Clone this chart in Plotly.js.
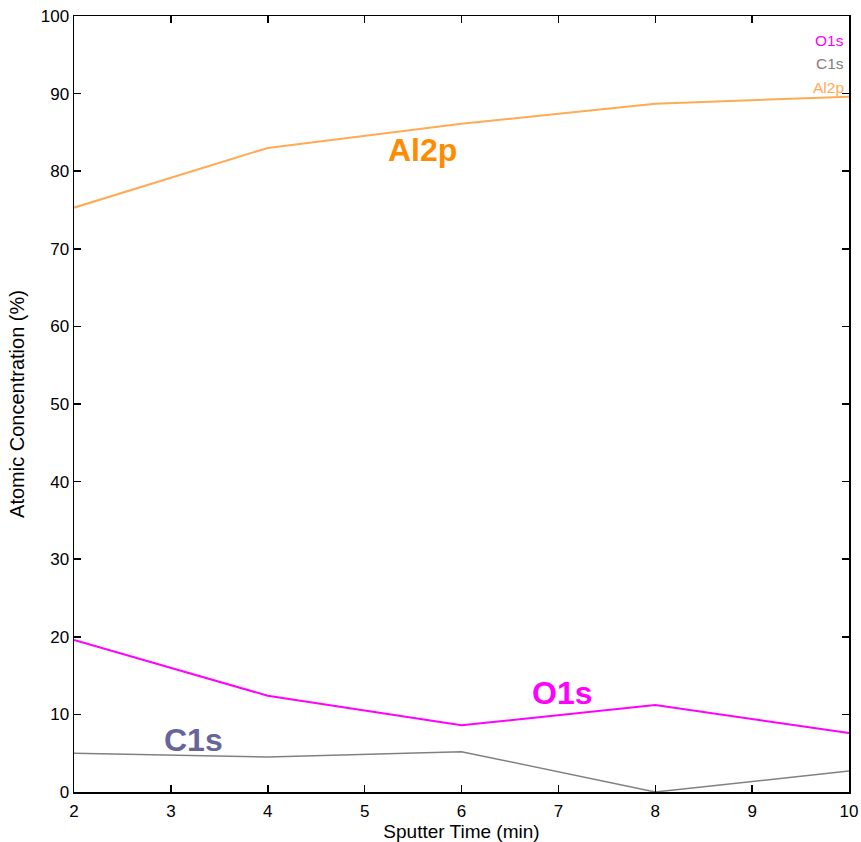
<!DOCTYPE html>
<html>
<head>
<meta charset="utf-8">
<script src="https://cdn.plot.ly/plotly-3.0.1.min.js"></script>
<style>html,body{margin:0;padding:0;background:#fff;}#chart{width:861px;height:842px;}</style>
</head>
<body>
<div id="chart"></div>
<script>
const sputterTime = [2, 4, 6, 8, 10];
const al2p = [75.3, 83.0, 86.1, 88.7, 89.6];
const o1s = [19.6, 12.4, 8.6, 11.2, 7.6];
const c1s = [5.0, 4.5, 5.2, 0.0, 2.7];
const seriesNames = ["O1s", "C1s", "Al2p"];
const seriesColors = ["#ff00ff", "#808080", "#ffaa55"];
const labelColors = ["#ff00ff", "#666699", "#ff8c00"];
const labelPos = [[7.04, 12.8], [3.23, 6.7], [5.6, 82.7]];

const seriesData = [o1s, c1s, al2p];
const traces = seriesData.map((d, i) => ({
  x: sputterTime, y: d, type: 'scatter', mode: 'lines', name: seriesNames[i],
  line: {color: seriesColors[i], width: i === 1 ? 1.5 : 2},
  showlegend: false, cliponaxis: false
}));

const annotations = [];
seriesNames.forEach((n, i) => {
  annotations.push({x: labelPos[i][0], y: labelPos[i][1], xref: 'x', yref: 'y', text: '<b>' + n + '</b>',
    showarrow: false, font: {family: 'Liberation Sans, Arial', size: 32, color: labelColors[i]}});
  annotations.push({x: 0.996, y: 0.968 - i * 0.0298, xref: 'paper', yref: 'paper', xanchor: 'right', yanchor: 'middle',
    text: n, showarrow: false, font: {family: 'Liberation Sans, Arial', size: 15.5, color: seriesColors[i]}});
});

const axisCommon = {
  showline: true, linecolor: '#000', linewidth: 1.5, mirror: 'ticks', ticks: 'inside', ticklen: 7,
  tickcolor: '#000', tickwidth: 1.5, showgrid: false, zeroline: false,
  tickfont: {family: 'Liberation Sans, Arial', size: 17, color: '#000'}
};

const layout = {
  width: 861, height: 842,
  margin: {l: 74, r: 12, t: 16, b: 50},
  paper_bgcolor: '#fff', plot_bgcolor: '#fff',
  xaxis: Object.assign({}, axisCommon, {range: [2, 10], dtick: 1, ticklabelstandoff: 3,
    title: {text: 'Sputter Time (min)', standoff: 2, font: {family: 'Liberation Sans, Arial', size: 19, color: '#000'}}}),
  yaxis: Object.assign({}, axisCommon, {range: [0, 100], dtick: 10,
    title: {text: 'Atomic Concentration (%)', standoff: 10, font: {family: 'Liberation Sans, Arial', size: 20, color: '#000'}}}),
  annotations: annotations
};

Plotly.newPlot('chart', traces, layout, {displayModeBar: false, staticPlot: true});
</script>
</body>
</html>
